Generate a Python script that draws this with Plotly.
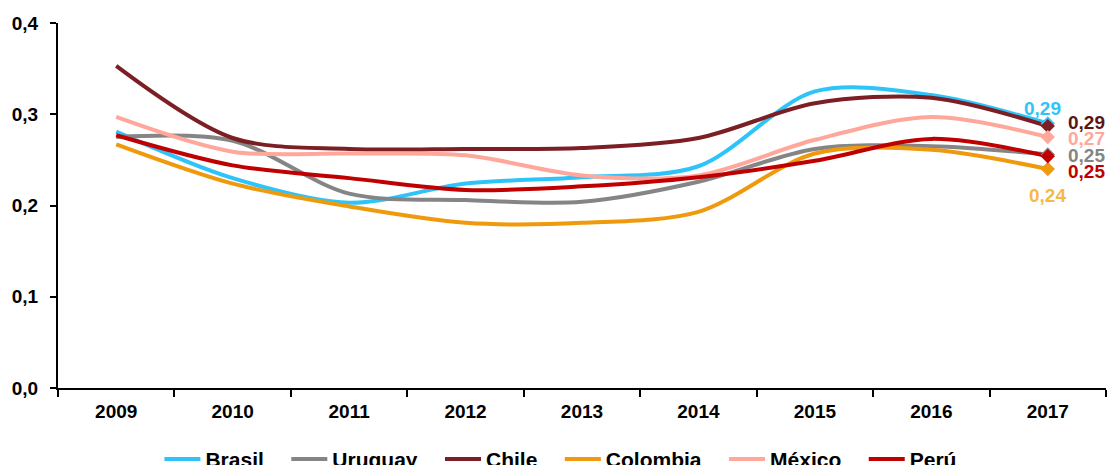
import plotly.graph_objects as go

years = ["2009", "2010", "2011", "2012", "2013", "2014", "2015", "2016", "2017"]
brasil   = [0.281, 0.230, 0.203, 0.224, 0.231, 0.243, 0.325, 0.321, 0.290]
uruguay  = [0.275, 0.271, 0.213, 0.206, 0.204, 0.226, 0.262, 0.265, 0.256]
chile    = [0.353, 0.274, 0.262, 0.262, 0.263, 0.274, 0.312, 0.318, 0.287]
colombia = [0.267, 0.224, 0.199, 0.181, 0.181, 0.193, 0.257, 0.261, 0.240]
mexico   = [0.297, 0.259, 0.257, 0.255, 0.233, 0.233, 0.272, 0.297, 0.275]
peru     = [0.277, 0.244, 0.230, 0.217, 0.221, 0.231, 0.249, 0.273, 0.254]

series = [
    ("Brasil", brasil, "#2EC4FA", "#2EC4FA"),
    ("Uruguay", uruguay, "#858585", "#858585"),
    ("Chile", chile, "#7B1F24", "#5A1518"),
    ("Colombia", colombia, "#EE9A0C", "#F7B84A"),
    ("México", mexico, "#FFA79B", "#FFA79B"),
    ("Perú", peru, "#C00000", "#C00000"),
]
end_labels = ["0,29", "0,25", "0,29", "0,24", "0,27", "0,25"]
label_offsets = [(-5, 15), (39, -1), (39, 4), (0, -26), (39, -1), (39, -15)]

FONT = "Liberation Sans, Arial, sans-serif"
PAD = "\u00a0\u00a0\u00a0"

fig = go.Figure()
for name, vals, col, _ in series:
    fig.add_trace(go.Scatter(
        x=years, y=vals, name=name + PAD, mode="lines",
        line=dict(color=col, width=4, shape="spline", smoothing=0.9),
    ))
for name, vals, col, _ in series:
    fig.add_trace(go.Scatter(
        x=[years[-1]], y=[vals[-1]], mode="markers", showlegend=False,
        marker=dict(symbol="diamond", size=11, color=col),
        hoverinfo="skip",
    ))

last_idx = len(years) - 1
for (name, vals, col, lcol), lab, (dx, dy) in zip(series, end_labels, label_offsets):
    fig.add_annotation(
        xref="x", yref="y", x=last_idx, y=vals[-1], text=lab, showarrow=False,
        xshift=dx, yshift=dy,
        font=dict(family=FONT, size=19, color=lcol, weight="bold"),
    )

fig.update_layout(
    width=1110, height=465,
    margin=dict(l=58, r=4, t=23, b=77, autoexpand=False),
    paper_bgcolor="white", plot_bgcolor="white",
    font=dict(family=FONT, size=19, color="black"),
    showlegend=True,
    legend=dict(orientation="h", x=0.513, xanchor="center", xref="container",
                y=0.012, yanchor="middle", yref="container",
                font=dict(family=FONT, size=21, color="black", weight="bold"),
                itemwidth=36, tracegroupgap=0),
    separators=",.",
)
fig.update_xaxes(
    type="category", range=[-0.5, 8.5], showline=True, linecolor="black", linewidth=2,
    ticks="outside", tickson="boundaries", ticklen=7, tickcolor="black", tickwidth=1.5,
    ticklabelstandoff=5,
    tickfont=dict(family=FONT, size=19, color="black", weight="bold"), showgrid=False,
)
fig.update_yaxes(
    range=[0, 0.4], dtick=0.1, tickformat=".1f", showline=True, linecolor="black", linewidth=2,
    ticks="outside", ticklen=6, tickcolor="black", tickwidth=1.5, showgrid=False, zeroline=False,
    ticklabelstandoff=8,
    tickfont=dict(family=FONT, size=19, color="black", weight="bold"),
)

fig.write_html("out.html", config={"displayModeBar": False},
               post_script="document.body.style.margin='0px';")
